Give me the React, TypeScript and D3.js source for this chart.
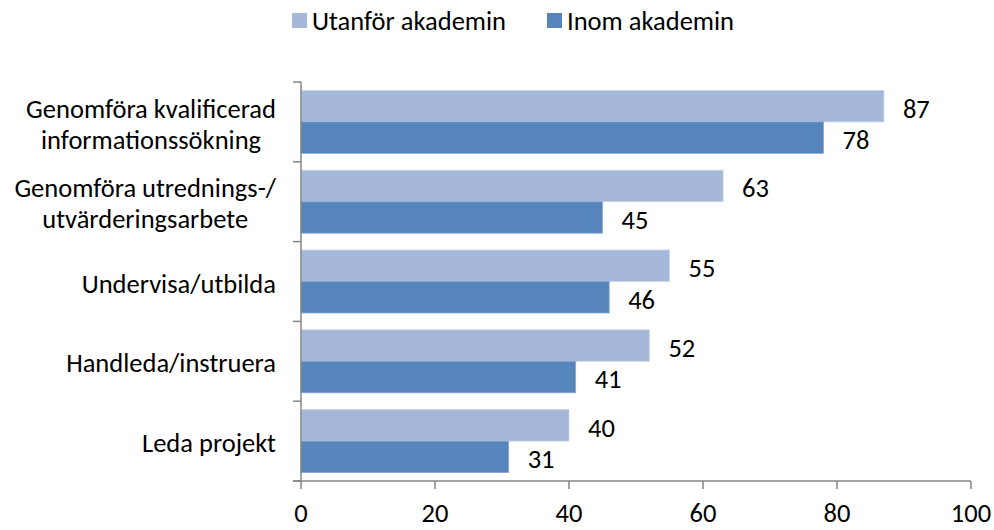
import React, { useEffect, useRef } from "react";
import * as d3 from "d3";

const categories = [
  "Genomföra kvalificerad\ninformationssökning",
  "Genomföra utrednings-/\nutvärderingsarbete",
  "Undervisa/utbilda",
  "Handleda/instruera",
  "Leda projekt",
];
const seriesNames = ["Utanför akademin", "Inom akademin"];
const utanfor = [87, 63, 55, 52, 40];
const inom = [78, 45, 46, 41, 31];
const xTicks = [0, 20, 40, 60, 80, 100];

const colors = ["#A5B8DA", "#5585BB"];
const FONT = "Carlito, Calibri, 'Open Sans', sans-serif";
const FS = 26.5;

export default function App() {
  const ref = useRef<SVGSVGElement>(null);
  useEffect(() => {
    const svg = d3.select(ref.current);
    svg.selectAll("*").remove();
    const x = d3.scaleLinear().domain([0, 100]).range([301, 971]);
    const y = d3.scaleBand<string>().domain(categories).range([82, 481]).padding(0);
    const inner = d3
      .scaleBand<string>()
      .domain(seriesNames)
      .range([0, y.bandwidth()])
      .paddingInner(0)
      .paddingOuter(0.267);
    const values = [utanfor, inom];
    const axisColor = "#868686";

    // bars
    seriesNames.forEach((s, si) => {
      const g = svg.append("g");
      categories.forEach((c, ci) => {
        const v = values[si][ci];
        const yy = (y(c) as number) + (inner(s) as number);
        g.append("rect")
          .attr("x", x(0))
          .attr("y", yy)
          .attr("width", x(v) - x(0))
          .attr("height", inner.bandwidth())
          .attr("fill", colors[si])
          .attr("stroke", si === 0 ? "#C9D5EA" : "#8AA9D2")
          .attr("stroke-width", 0.8);
        g.append("text")
          .attr("x", x(v) + 19)
          .attr("y", yy + inner.bandwidth() / 2)
          .attr("dy", "0.43em")
          .attr("font-family", FONT)
          .attr("font-size", FS)
          .attr("fill", "#000")
          .text(v);
      });
    });

    // y axis
    svg
      .append("line")
      .attr("x1", x(0))
      .attr("x2", x(0))
      .attr("y1", 82)
      .attr("y2", 481)
      .attr("stroke", axisColor)
      .attr("stroke-width", 1.5);
    const yTickPos = categories.map((c) => y(c) as number).concat([481]);
    yTickPos.forEach((p) => {
      svg
        .append("line")
        .attr("x1", x(0) - 8)
        .attr("x2", x(0))
        .attr("y1", p)
        .attr("y2", p)
        .attr("stroke", axisColor)
        .attr("stroke-width", 1.5);
    });
    // x axis
    svg
      .append("line")
      .attr("x1", x(0) - 8)
      .attr("x2", x(100))
      .attr("y1", 481)
      .attr("y2", 481)
      .attr("stroke", axisColor)
      .attr("stroke-width", 1.5);
    xTicks.forEach((t) => {
      svg
        .append("line")
        .attr("x1", x(t))
        .attr("x2", x(t))
        .attr("y1", 481)
        .attr("y2", 489)
        .attr("stroke", axisColor)
        .attr("stroke-width", 1.5);
      svg
        .append("text")
        .attr("x", x(t))
        .attr("y", 522)
        .attr("text-anchor", "middle")
        .attr("font-family", FONT)
        .attr("font-size", FS)
        .text(t);
    });

    // category labels
    const rightEdge = 276;
    const lh = 31;
    categories.forEach((c) => {
      const lines = c.split("\n");
      const cy = (y(c) as number) + y.bandwidth() / 2;
      const t = svg
        .append("text")
        .attr("font-family", FONT)
        .attr("font-size", FS)
        .attr("fill", "#000");
      const n = lines.length;
      lines.forEach((l, i) => {
        t.append("tspan")
          .attr("y", cy + (i - (n - 1) / 2) * lh)
          .attr("dy", "0.42em")
          .text(l);
      });
      if (n === 1) {
        t.attr("text-anchor", "end");
        t.selectAll("tspan").attr("x", rightEdge);
      } else {
        let maxW = 0;
        t.selectAll<SVGTSpanElement, unknown>("tspan").each(function () {
          maxW = Math.max(maxW, this.getComputedTextLength());
        });
        t.attr("text-anchor", "middle");
        t.selectAll("tspan").attr("x", rightEdge - maxW / 2);
      }
    });

    // legend
    const legendItems = [
      { x: 292, name: seriesNames[0], color: colors[0] },
      { x: 547, name: seriesNames[1], color: colors[1] },
    ];
    legendItems.forEach((li) => {
      svg
        .append("rect")
        .attr("x", li.x)
        .attr("y", 13)
        .attr("width", 15)
        .attr("height", 15)
        .attr("fill", li.color);
      svg
        .append("text")
        .attr("x", li.x + 20)
        .attr("y", 30)
        .attr("font-family", FONT)
        .attr("font-size", FS)
        .text(li.name);
    });
  }, []);

  return (
    <svg
      ref={ref}
      width={994}
      height={530}
      style={{ position: "absolute", left: 0, top: 0, background: "#fff" }}
    />
  );
}
